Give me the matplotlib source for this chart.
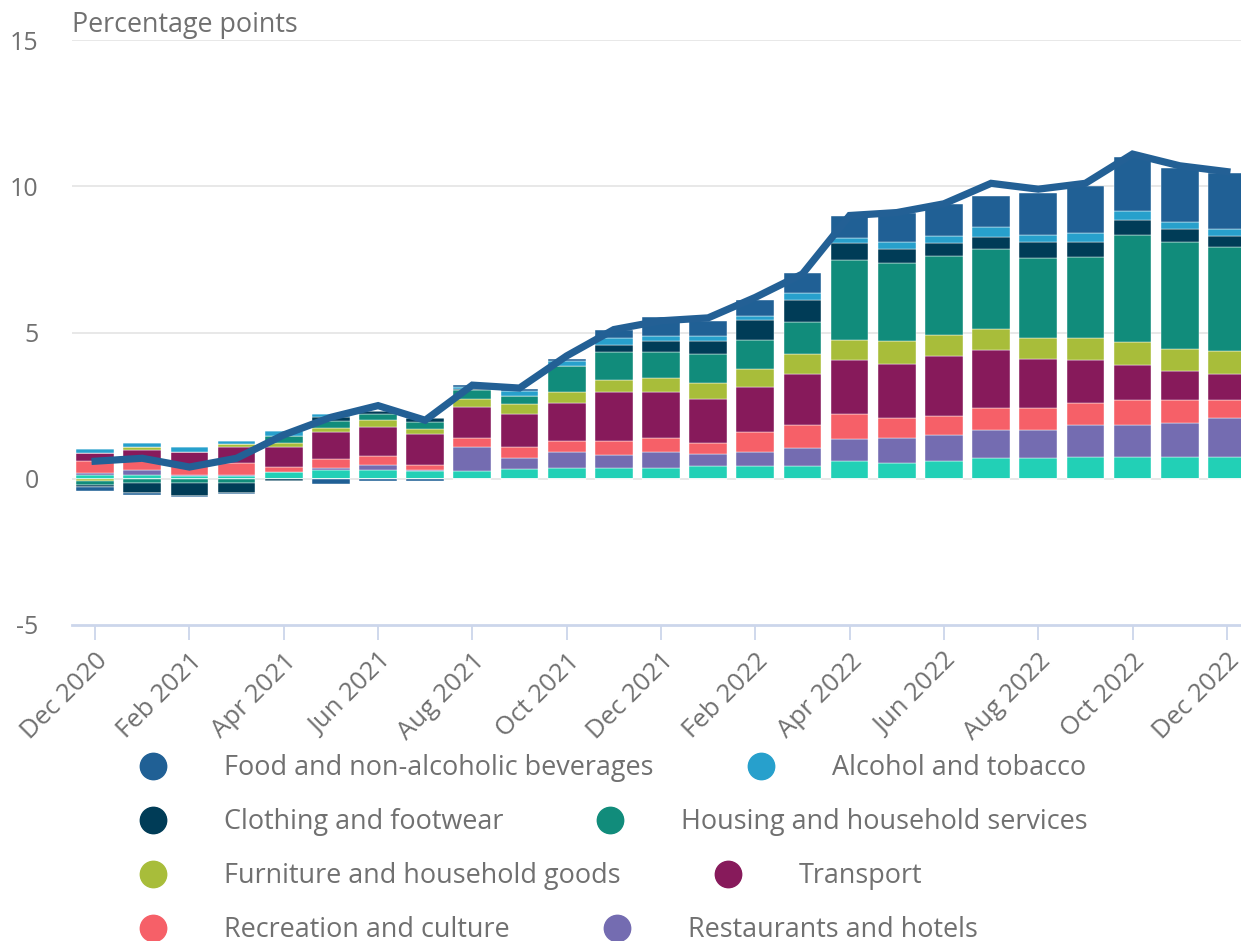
import matplotlib
matplotlib.use("Agg")
import matplotlib.pyplot as plt
from matplotlib.lines import Line2D
import numpy as np

plt.rcParams["font.family"] = ["Open Sans", "DejaVu Sans"]

months = ["Dec 2020", "Jan 2021", "Feb 2021", "Mar 2021", "Apr 2021", "May 2021",
          "Jun 2021", "Jul 2021", "Aug 2021", "Sep 2021", "Oct 2021", "Nov 2021",
          "Dec 2021", "Jan 2022", "Feb 2022", "Mar 2022", "Apr 2022", "May 2022",
          "Jun 2022", "Jul 2022", "Aug 2022", "Sep 2022", "Oct 2022", "Nov 2022",
          "Dec 2022"]

# contributions, percentage points
food = [-0.15, -0.06, -0.02, -0.05, 0.0, -0.17, -0.06, -0.08, 0.08, 0.07, 0.07, 0.28,
        0.66, 0.54, 0.52, 0.66, 0.77, 1.00, 1.09, 1.05, 1.44, 1.61, 1.85, 1.82, 1.93]
alcohol = [0.15, 0.15, 0.15, 0.11, 0.17, 0.08, 0.0, 0.0, 0.06, 0.17, 0.16, 0.25,
           0.15, 0.15, 0.16, 0.25, 0.15, 0.24, 0.23, 0.34, 0.25, 0.31, 0.31, 0.24, 0.24]
clothing = [-0.08, -0.33, -0.45, -0.33, -0.07, 0.15, 0.08, 0.14, 0.06, 0.0, 0.0, 0.22,
            0.37, 0.47, 0.69, 0.75, 0.60, 0.46, 0.46, 0.43, 0.52, 0.52, 0.52, 0.46, 0.36]
housing = [-0.12, -0.15, -0.15, -0.15, 0.23, 0.23, 0.23, 0.25, 0.31, 0.26, 0.90, 0.99,
           0.89, 0.97, 0.98, 1.08, 2.72, 2.69, 2.69, 2.74, 2.76, 2.76, 3.65, 3.66, 3.57]
furniture = [-0.08, 0.08, 0.0, 0.11, 0.15, 0.15, 0.23, 0.15, 0.26, 0.34, 0.39, 0.39,
             0.48, 0.54, 0.63, 0.71, 0.69, 0.77, 0.71, 0.70, 0.69, 0.76, 0.78, 0.76, 0.79]
transport = [0.29, 0.37, 0.50, 0.53, 0.68, 0.90, 1.00, 1.08, 1.06, 1.14, 1.29, 1.67,
             1.60, 1.52, 1.51, 1.74, 1.85, 1.84, 2.08, 1.98, 1.68, 1.45, 1.20, 0.98, 0.88]
recreation = [0.40, 0.31, 0.29, 0.40, 0.17, 0.31, 0.31, 0.15, 0.32, 0.38, 0.38, 0.48,
              0.47, 0.38, 0.69, 0.77, 0.85, 0.71, 0.62, 0.77, 0.77, 0.76, 0.85, 0.77, 0.62]
restaurants = [0.06, 0.17, 0.04, 0.04, 0.0, 0.09, 0.15, 0.06, 0.82, 0.39, 0.53, 0.44,
               0.53, 0.39, 0.47, 0.61, 0.77, 0.85, 0.91, 0.96, 0.96, 1.08, 1.08, 1.16, 1.31]
other = [0.13, 0.14, 0.10, 0.10, 0.23, 0.29, 0.31, 0.25, 0.25, 0.32, 0.38, 0.38,
         0.38, 0.45, 0.45, 0.45, 0.59, 0.53, 0.60, 0.70, 0.70, 0.76, 0.76, 0.76, 0.76]

# all items CPI 12-month rate
cpi = [0.6, 0.7, 0.4, 0.7, 1.5, 2.1, 2.5, 2.0, 3.2, 3.1, 4.2, 5.1, 5.4, 5.5, 6.2,
       7.0, 9.0, 9.1, 9.4, 10.1, 9.9, 10.1, 11.1, 10.7, 10.5]

labels = ["Food and non-alcoholic beverages", "Alcohol and tobacco",
          "Clothing and footwear", "Housing and household services",
          "Furniture and household goods", "Transport",
          "Recreation and culture", "Restaurants and hotels", "Other"]
series = [food, alcohol, clothing, housing, furniture, transport, recreation,
          restaurants, other]
colors = ["#206095", "#27a0cc", "#003c57", "#118c7b", "#a8bd3a", "#871a5b",
          "#f66068", "#746cb1", "#22d0b6"]

grey = "#707070"
W, H = 1241, 941
fig = plt.figure(figsize=(W / 100, H / 100), dpi=100)
ax = fig.add_axes([72 / W, 1 - 625 / H, 1 - 72 / W, (625 - 40) / H])

x = np.arange(len(months))
pos = np.zeros(len(months))
neg = np.zeros(len(months))
# stack from the last series (nearest zero) to the first (outermost)
for vals, c in zip(series[::-1], colors[::-1]):
    v = np.array(vals)
    p = np.where(v > 0, v, 0)
    n = np.where(v < 0, v, 0)
    ax.bar(x, p, 0.8, bottom=pos, color=c, edgecolor="white", linewidth=0.3, zorder=2)
    ax.bar(x, n, 0.8, bottom=neg, color=c, edgecolor="white", linewidth=0.3, zorder=2)
    pos += p
    neg += n

ax.plot(x, cpi, color="#236095", lw=5.2, zorder=3, solid_joinstyle="miter")

ax.set_xlim(-0.49, 24.3)
ax.set_ylim(-5, 15)
ax.set_yticks([-5, 0, 5, 10, 15])
ax.set_yticklabels(["-5", "0", "5", "10", "15"])
for yv in [0, 5, 10, 15]:
    ax.axhline(yv, color="#e6e6e6", lw=1.3, zorder=1)
for s in ["top", "right", "left"]:
    ax.spines[s].set_visible(False)
ax.spines["bottom"].set_color("#ccd6eb")
ax.spines["bottom"].set_linewidth(2)
ax.tick_params(axis="y", length=0, pad=24, labelsize=18, labelcolor=grey)
ax.set_xticks(x[::2])
ax.set_xticklabels(months[::2], rotation=45, ha="right", va="top",
                   rotation_mode="anchor")
ax.tick_params(axis="x", length=11, width=1.3, color="#ccd6eb", pad=6,
               labelsize=18.5, labelcolor=grey)
for t in ax.get_yticklabels():
    t.set_ha("right")

fig.text(72 / W, 1 - 25 / H, "Percentage points", color=grey, fontsize=19.4,
         va="center", ha="left")

# legend rows, two items per row
fig.canvas.draw()
rend = fig.canvas.get_renderer()
rows_y = [766, 820, 874, 928]
for r, yp in enumerate(rows_y):
    xc = 153
    for k in range(2):
        i = r * 2 + k
        fig.add_artist(Line2D([xc / W], [1 - yp / H], marker="o", markersize=19,
                              color=colors[i], transform=fig.transFigure))
        t = fig.text((xc + 71) / W, 1 - (yp + 2) / H, labels[i], color=grey,
                     fontsize=19.45, va="center", ha="left")
        bb = t.get_window_extent(rend)
        xc = bb.x1 + 107

fig.savefig("out.png", dpi=100)
